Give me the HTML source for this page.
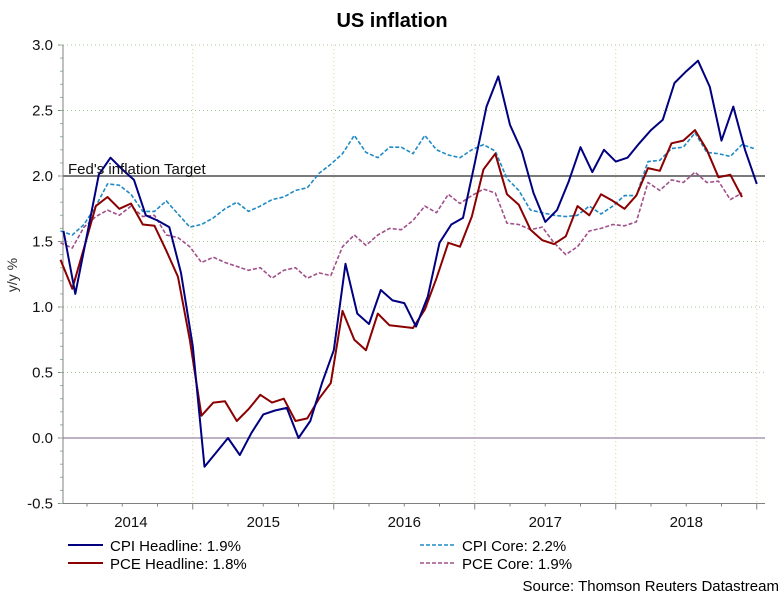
<!DOCTYPE html>
<html><head><meta charset="utf-8"><style>
html,body{margin:0;padding:0;background:#fff;}
svg{display:block;font-family:"Liberation Sans",sans-serif;}
</style></head><body>
<svg id="chart" width="784" height="613" viewBox="0 0 784 613">
<text x="392" y="27" text-anchor="middle" font-size="20" font-weight="bold" fill="#000">US inflation</text>
<text transform="translate(17,275) rotate(-90)" text-anchor="middle" font-size="14" fill="#333">y/y %</text>
<g id="grid"></g>
<g id="axes"></g>
<g id="series"></g>
<text x="68" y="174" font-size="15" fill="#111">Fed's inflation Target</text>
<g>
<line x1="68" y1="545" x2="103" y2="545" stroke="#000080" stroke-width="2"/>
<text x="110" y="551" font-size="15">CPI Headline: 1.9%</text>
<line x1="68" y1="563" x2="103" y2="563" stroke="#8b0000" stroke-width="2"/>
<text x="110" y="569" font-size="15">PCE Headline: 1.8%</text>
<line x1="420" y1="545" x2="455" y2="545" stroke="#1f8ac4" stroke-width="1.5" stroke-dasharray="4,2"/>
<text x="462" y="551" font-size="15">CPI Core: 2.2%</text>
<line x1="420" y1="563" x2="455" y2="563" stroke="#a0508a" stroke-width="1.5" stroke-dasharray="4,2"/>
<text x="462" y="569" font-size="15">PCE Core: 1.9%</text>
</g>
<text x="779" y="591" text-anchor="end" font-size="15">Source: Thomson Reuters Datastream</text>
</svg>
<script>
const years = ["2014","2015","2016","2017","2018"];
const yTicks = [-0.5,0,0.5,1,1.5,2,2.5,3];
const yTickLabels = ["-0.5","0.0","0.5","1.0","1.5","2.0","2.5","3.0"];
const targetValue = 2.0;
const cpiHeadline = [1.58,1.10,1.55,2.01,2.14,2.05,1.97,1.70,1.66,1.61,1.26,0.70,
 -0.22,-0.11,0.00,-0.13,0.04,0.18,0.21,0.23,0.00,0.13,0.42,0.67,
 1.33,0.95,0.87,1.13,1.05,1.03,0.85,1.08,1.49,1.63,1.68,2.10,
 2.53,2.76,2.39,2.19,1.87,1.65,1.74,1.96,2.22,2.03,2.20,2.11,
 2.14,2.25,2.35,2.43,2.71,2.80,2.88,2.68,2.27,2.53,2.20,1.94];
const pceHeadline = [1.36,1.14,1.45,1.77,1.84,1.75,1.79,1.63,1.62,1.43,1.23,0.75,
 0.17,0.27,0.28,0.13,0.22,0.33,0.27,0.30,0.13,0.15,0.30,0.42,
 0.97,0.75,0.67,0.95,0.86,0.85,0.84,0.98,1.22,1.49,1.46,1.69,
 2.05,2.17,1.86,1.78,1.59,1.51,1.48,1.54,1.77,1.70,1.86,1.81,
 1.75,1.85,2.06,2.04,2.25,2.27,2.35,2.20,1.99,2.01,1.84];
const cpiCore = [1.58,1.55,1.63,1.77,1.94,1.93,1.86,1.73,1.73,1.81,1.71,1.61,
 1.63,1.68,1.75,1.80,1.73,1.77,1.82,1.84,1.89,1.91,2.02,2.09,
 2.17,2.31,2.18,2.14,2.22,2.22,2.17,2.31,2.20,2.16,2.14,2.20,
 2.24,2.19,1.98,1.89,1.74,1.72,1.70,1.69,1.70,1.77,1.71,1.77,
 1.85,1.85,2.11,2.12,2.21,2.22,2.33,2.18,2.17,2.15,2.24,2.21];
const pceCore = [1.49,1.45,1.61,1.69,1.74,1.70,1.77,1.69,1.70,1.55,1.53,1.46,
 1.34,1.38,1.34,1.31,1.28,1.30,1.22,1.28,1.30,1.22,1.26,1.24,
 1.46,1.55,1.47,1.55,1.60,1.59,1.66,1.77,1.72,1.86,1.79,1.85,
 1.90,1.87,1.64,1.63,1.59,1.61,1.49,1.40,1.46,1.58,1.60,1.63,
 1.62,1.65,1.95,1.89,1.97,1.95,2.03,1.95,1.96,1.82,1.87];

const NS="http://www.w3.org/2000/svg";
const L=63,R=770,T=45,B=503.5,YMIN=-0.5,YMAX=3.0;
const X0=63.5,STEP=11.75;
function xs(i){return X0+i*STEP;}
function ys(v){return B-(v-YMIN)/(YMAX-YMIN)*(B-T);}
function mk(tag,attrs,parent){const e=document.createElementNS(NS,tag);for(const k in attrs)e.setAttribute(k,attrs[k]);parent.appendChild(e);return e;}
const grid=document.getElementById('grid'),axes=document.getElementById('axes'),ser=document.getElementById('series');

yTicks.forEach((v,k)=>{
  if(v!==YMIN && v!==0 && v!==targetValue){
    const g=mk('line',{x1:L,x2:R-5,y1:ys(v),y2:ys(v),stroke:'#a8c8a0','stroke-width':1,'stroke-dasharray':'1,3'},grid);
    
    
  }
  const t=mk('text',{x:53,y:ys(v)+5,'text-anchor':'end','font-size':15,fill:'#111'},axes);
  t.textContent=yTickLabels[k];
  
  
  const tk=mk('line',{x1:L-5,x2:L,y1:ys(v),y2:ys(v),stroke:'#808080'},axes);
  
  
});
for(let v=YMIN;v<=YMAX+1e-9;v+=0.1){
  const m=mk('line',{x1:L-3,x2:L,y1:ys(v),y2:ys(v),stroke:'#90b890'},axes);
  
  
}
years.forEach((y,k)=>{
  const bx=xs(11+12*k);
  const g=mk('line',{x1:bx,x2:bx,y1:T,y2:B,stroke:'#e0d0a0','stroke-width':1,'stroke-dasharray':'1,3'},grid);
  
  
  const tk=mk('line',{x1:bx,x2:bx,y1:B,y2:B+6,stroke:'#808080'},axes);
  
  
  for(let q=1;q<4;q++){
    const mx=xs(11+12*k-3*q);
    if(mx>L){const m=mk('line',{x1:mx,x2:mx,y1:B,y2:B+3,stroke:'#808080'},axes);
    
    }
  }
  const start=Math.max(L,xs(12*k-1));
  const t=mk('text',{x:(k===0?(start+bx)/2+3:(start+bx)/2),y:527,'text-anchor':'middle','font-size':15,fill:'#111'},axes);
  t.textContent=y;
  
  
});
const zl=mk('line',{x1:L,x2:R-5,y1:ys(0),y2:ys(0),stroke:'#a898b0','stroke-width':1.5},grid);


const tl=mk('line',{x1:L,x2:R-5,y1:ys(targetValue),y2:ys(targetValue),stroke:'#7a7a7a','stroke-width':2},grid);


const ya=mk('line',{x1:L,x2:L,y1:T,y2:B,stroke:'#808080'},axes);


const xa=mk('line',{x1:L,x2:R-5,y1:B,y2:B,stroke:'#808080'},axes);



function line(data,color,dash,name,shift){
  const pts=data.map((v,i)=>(xs(i)+shift).toFixed(1)+','+ys(v).toFixed(1)).join(' ');
  const attrs={points:pts,fill:'none',stroke:color,'stroke-width':dash?1.6:2,'stroke-linejoin':'round'};
  if(dash)attrs['stroke-dasharray']='4,2';
  const p=mk('polyline',attrs,ser);
  
  
}
line(cpiCore,'#1f8ac4',true,'cpi-core-line',-3);
line(pceCore,'#a0508a',true,'pce-core-line',-3);
line(pceHeadline,'#8b0000',false,'pce-headline-line',-3);
line(cpiHeadline,'#000080',false,'cpi-headline-line',0);
</script>
</body></html>
